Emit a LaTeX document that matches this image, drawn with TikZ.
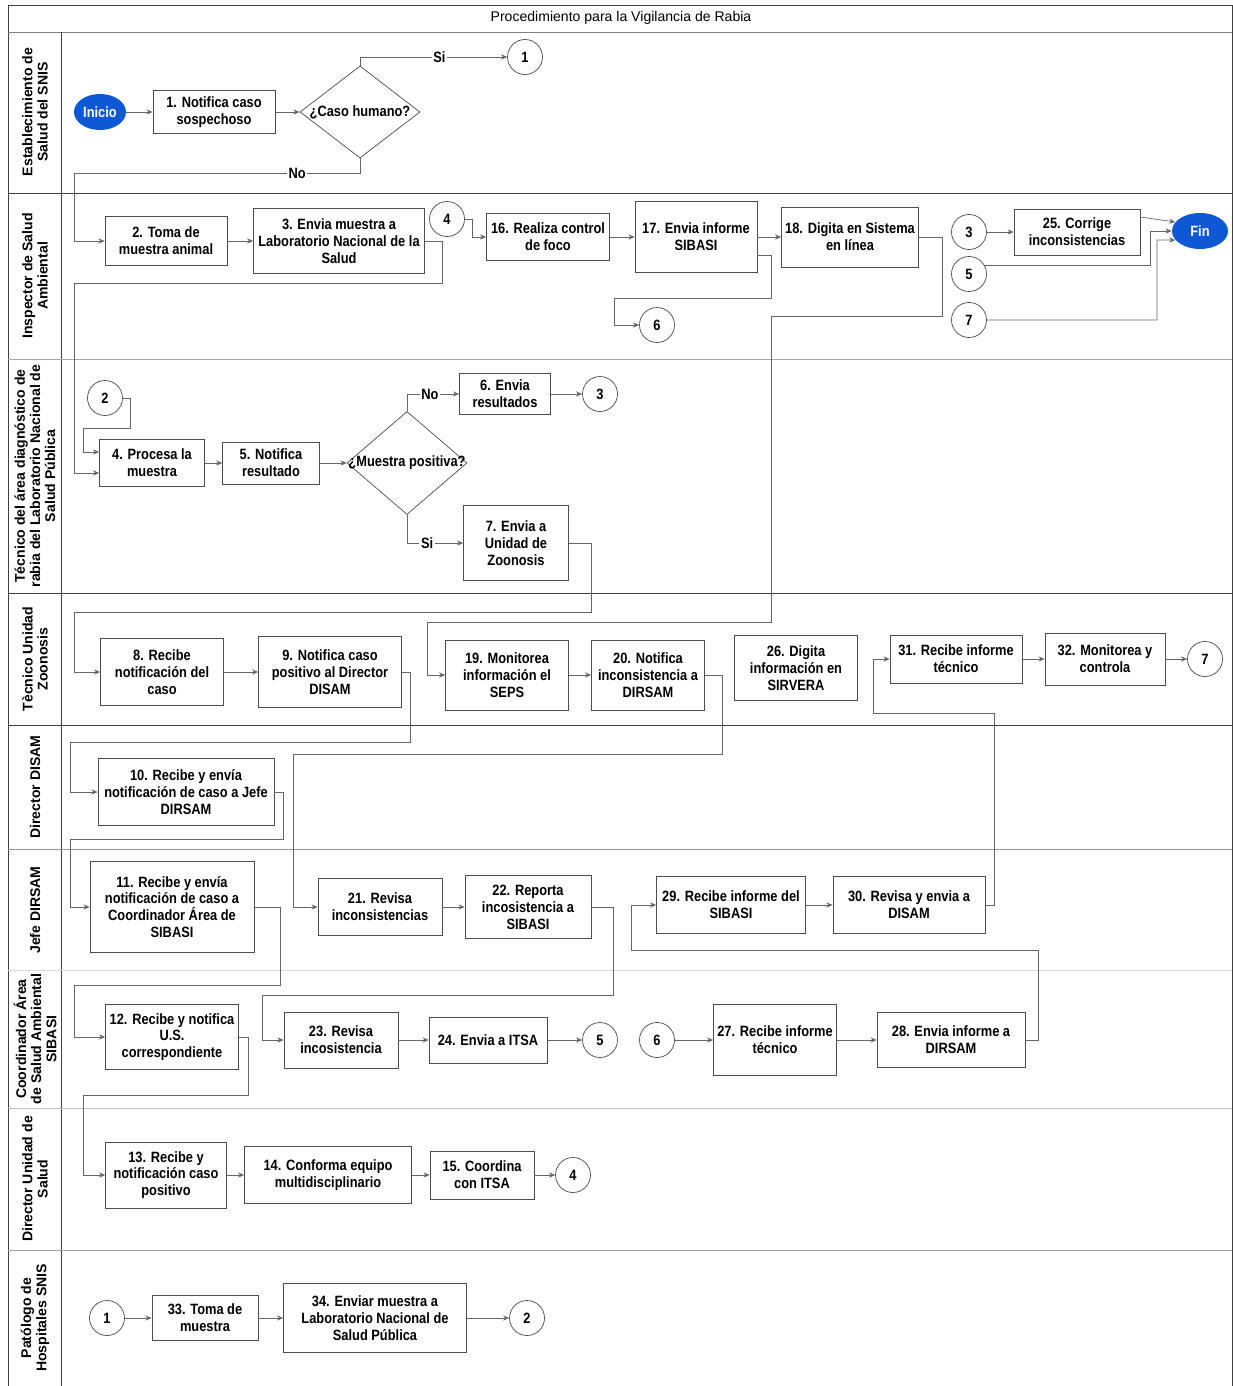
\documentclass[tikz,border=0pt]{standalone}
\usepackage{fontspec}
\setmainfont{Liberation Sans}
\newfontfamily\narrowfont[FakeStretch=0.86]{Liberation Sans}
\newcommand{\boxfont}{\narrowfont\bfseries\fontsize{8.5}{9.6}\selectfont}
\newcommand{\lanefont}{\bfseries\fontsize{8}{8.6}\selectfont}
\usetikzlibrary{shapes.geometric,arrows.meta}
\definecolor{startblue}{RGB}{14,88,214}

\begin{document}
\begin{tikzpicture}[x=0.02cm,y=-0.02cm,>={Stealth[length=3.5pt,width=3pt]},
    box/.style 2 args={draw=black!70,fill=white,align=center,inner sep=1pt,font=\boxfont,
        minimum width=#1*0.02cm,minimum height=#2*0.02cm},
    term/.style={ellipse,fill=startblue,text=white,inner sep=0pt,font=\boxfont,
        minimum width=#1*0.02cm,minimum height=36*0.02cm},
    decision/.style 2 args={diamond,draw=black!70,inner sep=0pt,
        minimum width=#1*0.02cm,minimum height=#2*0.02cm},
    txt/.style={font=\boxfont,inner sep=0pt},
    conn/.style={circle,draw=black!70,inner sep=0pt,minimum size=35*0.02cm,font=\boxfont},
    lbl/.style={fill=white,inner sep=1pt,font=\boxfont},
    lane/.style={rotate=90,align=center,font=\lanefont},
    flow/.style={draw=black!60,->}]
        \useasboundingbox (0,0) rectangle (1232,1386);

        % frame and lanes
        \draw[black!75] (8,1386) -- (8,5) -- (1232,5) -- (1232,1386);
        \draw[black!50] (8,32) -- (1232,32);
        \draw[black!75] (61,32) -- (61,1386);
        \foreach \y/\c in {193/75,359/35,593/75,725/75,849/40,970/15,1108/25,1250/35}
            \draw[black!\c] (8,\y) -- (1232,\y);
        \node[font=\fontsize{8}{9}\selectfont] (title) at (621,18) {Procedimiento para la Vigilancia de Rabia};

        \node[lane] (l1) at (35,112) {Establecimiento de\\Salud del SNIS};
        \node[lane] (l2) at (35,276) {Inspector de Salud\\Ambiental};
        \node[lane] (l3) at (35,476) {Técnico del área diagnóstico de\\rabia del Laboratorio Nacional de\\Salud Pública};
        \node[lane] (l4) at (35,659) {Tècnico Unidad\\Zoonosis};
        \node[lane] (l5) at (35,787) {Director DISAM};
        \node[lane] (l6) at (35,910) {Jefe DIRSAM};
        \node[lane] (l7) at (35,1039) {Coordinador Área\\de Salud Ambiental\\SIBASI};
        \node[lane] (l8) at (35,1179) {Director Unidad de\\Salud};
        \node[lane] (l9) at (35,1318) {Patólogo de\\Hospitales SNIS};

        % Establecimiento de Salud del SNIS
        \node[term=52] (inicio) at (100,112) {Inicio};
        \node[box={122}{43}] (n1) at (214,112) {1. Notifica caso\\sospechoso};
        \node[decision={120}{92}] (d1) at (360,112) {};
        \node[txt] (d1t) at (d1) {¿Caso humano?};
        \node[conn] (con1a) at (525,57) {1};

        % Inspector de Salud Ambiental
        \node[box={122}{49}] (n2) at (166,241) {2. Toma de\\muestra animal};
        \node[box={171}{65}] (n3) at (339,241) {3. Envia muestra a\\Laboratorio Nacional de la\\Salud};
        \node[conn] (con4a) at (447,219) {4};
        \node[box={123}{47}] (n16) at (548,237) {16. Realiza control\\de foco};
        \node[box={122}{71}] (n17) at (696,237) {17. Envia informe\\SIBASI};
        \node[box={137}{60}] (n18) at (850,237) {18. Digita en Sistema\\en línea};
        \node[conn] (con6a) at (657,325) {6};
        \node[conn] (con3b) at (969,232) {3};
        \node[conn] (con5b) at (969,274) {5};
        \node[conn] (con7b) at (969,320) {7};
        \node[box={126}{46}] (n25) at (1077,232) {25. Corrige\\inconsistencias};
        \node[term=56] (fin) at (1200,231) {Fin};

        % Tecnico del area diagnostico
        \node[conn] (con2a) at (105,398) {2};
        \node[box={105}{47}] (n4) at (152,463) {4. Procesa la\\muestra};
        \node[box={97}{42}] (n5) at (271,463) {5. Notifica\\resultado};
        \node[decision={120}{103}] (d2) at (407,463) {};
        \node[txt] (d2t) at (d2) {¿Muestra positiva?};
        \node[box={91}{41}] (n6) at (505,394) {6. Envia\\resultados};
        \node[conn] (con3a) at (600,394) {3};
        \node[box={105}{75}] (n7) at (516,543) {7. Envia a\\Unidad de\\Zoonosis};

        % Tecnico Unidad Zoonosis
        \node[box={123}{67}] (n8) at (162,672) {8. Recibe\\notificación del\\caso};
        \node[box={143}{71}] (n9) at (330,672) {9. Notifica caso\\positivo al Director\\DISAM};
        \node[box={123}{70}] (n19) at (507,675) {19. Monitorea\\información el\\SEPS};
        \node[box={113}{70}] (n20) at (648,675) {20. Notifica\\inconsistencia a\\DIRSAM};
        \node[box={123}{65}] (n26) at (796,668) {26. Digita\\información en\\SIRVERA};
        \node[box={132}{48}] (n31) at (956,659) {31. Recibe informe\\técnico};
        \node[box={120}{52}] (n32) at (1105,659) {32. Monitorea y\\controla};
        \node[conn] (con7a) at (1205,659) {7};

        % Director DISAM
        \node[box={176}{67}] (n10) at (186,792) {10. Recibe y envía\\notificación de caso a Jefe\\DIRSAM};

        % Jefe DIRSAM
        \node[box={164}{91}] (n11) at (172,907) {11. Recibe y envía\\notificación de caso a\\Coordinador Área de\\SIBASI};
        \node[box={124}{57}] (n21) at (380,907) {21. Revisa\\inconsistencias};
        \node[box={126}{63}] (n22) at (528,907) {22. Reporta\\incosistencia a\\SIBASI};
        \node[box={149}{57}] (n29) at (731,905) {29. Recibe informe del\\SIBASI};
        \node[box={152}{57}] (n30) at (909,905) {30. Revisa y envia a\\DISAM};

        % Coordinador Area de Salud Ambiental SIBASI
        \node[box={133}{65}] (n12) at (172,1037) {12. Recibe y notifica\\U.S.\\correspondiente};
        \node[box={114}{56}] (n23) at (341,1040) {23. Revisa\\incosistencia};
        \node[box={118}{46}] (n24) at (488,1040) {24. Envia a ITSA};
        \node[conn] (con5a) at (600,1040) {5};
        \node[conn] (con6b) at (657,1040) {6};
        \node[box={123}{71}] (n27) at (775,1040) {27. Recibe informe\\técnico};
        \node[box={148}{55}] (n28) at (951,1040) {28. Envia informe a\\DIRSAM};

        % Director Unidad de Salud
        \node[box={121}{66}] (n13) at (166,1175) {13. Recibe y\\notificación caso\\positivo};
        \node[box={167}{57}] (n14) at (328,1175) {14. Conforma equipo\\multidisciplinario};
        \node[box={104}{48}] (n15) at (482,1175) {15. Coordina\\con ITSA};
        \node[conn] (con4b) at (573,1175) {4};

        % Patologo de Hospitales SNIS
        \node[conn] (con1b) at (107,1318) {1};
        \node[box={106}{45}] (n33) at (205,1318) {33. Toma de\\muestra};
        \node[box={183}{69}] (n34) at (375,1318) {34. Enviar muestra a\\Laboratorio Nacional de\\Salud Pública};
        \node[conn] (con2b) at (527,1318) {2};

        % connectors
        \draw[flow] (inicio) -- (n1);
        \draw[flow] (n1) -- (d1);
        \draw[flow] (d1.north) |- node[lbl,pos=0.77] (si1) {Si} (con1a);
        \draw[flow] (d1.south) |- node[lbl,pos=0.61] (no1) {No} (74,173) |- (n2);

        \draw[flow] (n2) -- (n3);
        \draw[flow] (n3.east) -| (442,283) -| (74,473) -- (n4.west |- 0,473);
        \draw[flow] (con4a.east) -| (472,237) -- (n16);
        \draw[flow] (n16) -- (n17);
        \draw[flow] (n17) -- (n18);
        \draw[flow] (n17.east |- 0,255) -| (771,298) -| (614,325) -- (con6a);
        \draw[flow] (n18.east) -| (942,316) -| (771,622) -| (427,675) -- (n19);
        \draw[flow] (con3b) -- (n25);
        \draw[flow] (n25.east |- 0,217) -- (fin.160);
        \draw[flow] (con5b.30) -| (1150,231) -- (fin.west);
        \draw[flow] (con7b.east) -| (1157,240) -- (fin.200);

        \draw[flow] (con2a.east) -| (130,428) -| (83,452) -- (n4.west |- 0,452);
        \draw[flow] (n4) -- (n5);
        \draw[flow] (n5) -- (d2);
        \draw[flow] (d2.north) |- node[lbl,pos=0.72] (no2) {No} (n6);
        \draw[flow] (n6) -- (con3a);
        \draw[flow] (d2.south) |- node[lbl,pos=0.68] (si2) {Si} (n7);
        \draw[flow] (n7.east) -| (591,612) -| (74,672) -- (n8);

        \draw[flow] (n8) -- (n9);
        \draw[flow] (n9.east) -| (410,742) -| (70,792) -- (n10);
        \draw[flow] (n19) -- (n20);
        \draw[flow] (n20.east) -| (722,754) -| (293,907) -- (n21);
        \draw[flow] (n31) -- (n32);
        \draw[flow] (n32) -- (con7a);

        \draw[flow] (n10.east) -| (283,839) -| (70,907) -- (n11);

        \draw[flow] (n11.east) -| (280,985) -| (74,1037) -- (n12);
        \draw[flow] (n21) -- (n22);
        \draw[flow] (n22.east) -| (613,995) -| (262,1040) -- (n23);
        \draw[flow] (n29) -- (n30);
        \draw[flow] (n30.east) -| (994,713) -| (873,659) -- (n31);

        \draw[flow] (n12.east) -| (248,1095) -| (83,1175) -- (n13);
        \draw[flow] (n23) -- (n24);
        \draw[flow] (n24) -- (con5a);
        \draw[flow] (con6b) -- (n27);
        \draw[flow] (n27) -- (n28);
        \draw[flow] (n28.east) -| (1038,950) -| (631,905) -- (n29);

        \draw[flow] (n13) -- (n14);
        \draw[flow] (n14) -- (n15);
        \draw[flow] (n15) -- (con4b);

        \draw[flow] (con1b) -- (n33);
        \draw[flow] (n33) -- (n34);
        \draw[flow] (n34) -- (con2b);
    \end{tikzpicture}
\end{document}
